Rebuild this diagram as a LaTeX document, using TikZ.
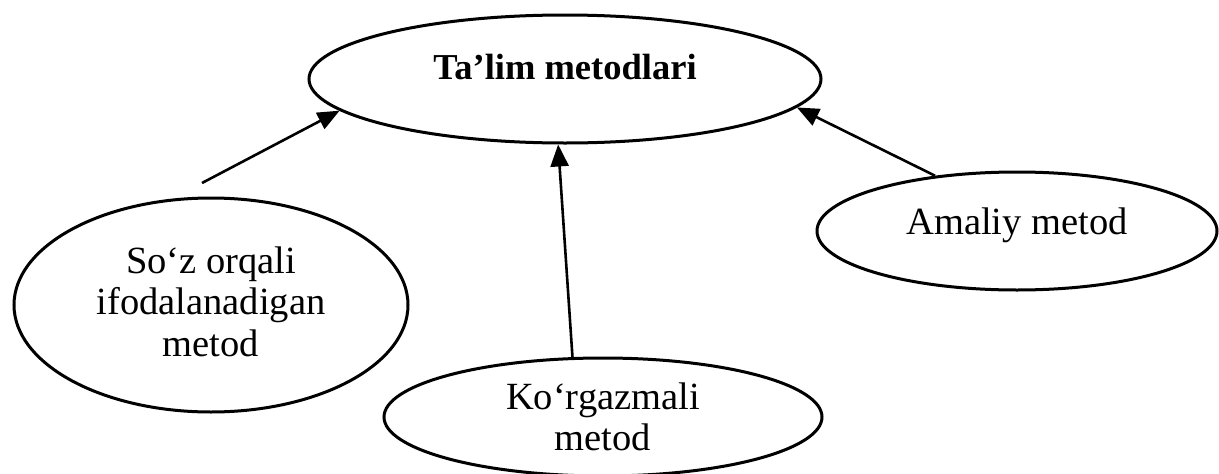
\documentclass[tikz,border=0pt]{standalone}
\usepackage{fontspec}
\setmainfont{Liberation Serif}
\usetikzlibrary{shapes.geometric,arrows.meta}
\begin{document}
\begin{tikzpicture}[x=1pt,y=-1pt,
  oval/.style={draw, line width=3pt, ellipse, inner sep=0pt, align=center,
    font=\fontsize{38.5}{41.5}\selectfont},
  arr/.style={line width=2.6pt, -{Triangle[length=22pt,width=18pt]}}]
\useasboundingbox (0,0) rectangle (1219,474);
\node[oval, minimum width=512pt, minimum height=128pt,
  font=\bfseries\fontsize{36.5}{40}\selectfont, text depth=24pt] (top) at (565,79) {Ta’lim metodlari};
\node[oval, minimum width=394pt, minimum height=214pt, text depth=7pt] (lft) at (211,305)
  {So‘z orqali\\ifodalanadigan\\metod};
\node[oval, minimum width=438pt, minimum height=118pt] (bot) at (603,417)
  {Ko‘rgazmali\\metod};
\node[oval, minimum width=400pt, minimum height=118pt, text depth=20pt] (rgt) at (1017,231)
  {Amaliy metod};
\coordinate (t1) at (202,183);
\draw[arr] (t1) -- (top.188);
\draw[arr] (bot.117) -- (top.264);
\draw[arr] (rgt.146) -- (top.353.7);
\end{tikzpicture}
\end{document}
